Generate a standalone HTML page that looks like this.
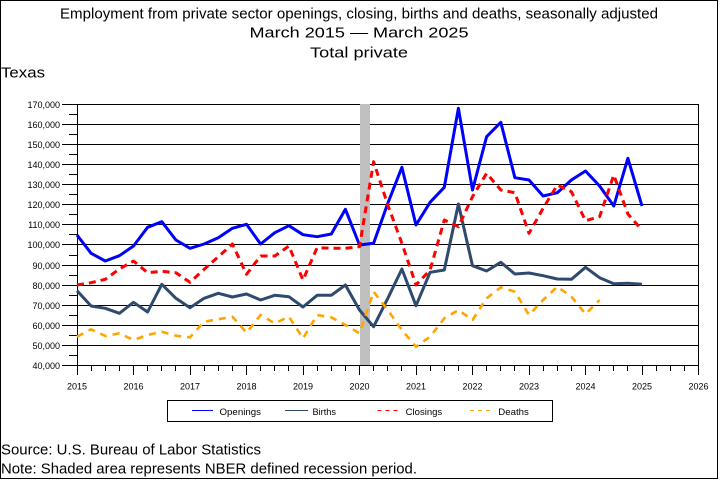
<!DOCTYPE html>
<html><head><meta charset="utf-8"><style>
html,body{margin:0;padding:0;background:#fff;}
svg{display:block;}
text{font-family:"Liberation Sans",sans-serif;fill:#000;}
</style></head><body>
<svg width="720" height="480" viewBox="0 0 720 480" xmlns="http://www.w3.org/2000/svg">
<rect x="0" y="0" width="720" height="480" fill="#fff"/>
<rect x="0.5" y="0.5" width="717" height="478" fill="none" stroke="#000" stroke-width="1"/>

<!-- titles -->
<text x="60" y="18.5" font-size="15" textLength="598" lengthAdjust="spacingAndGlyphs">Employment from private sector openings, closing, births and deaths, seasonally adjusted</text>
<text x="249.5" y="37.7" font-size="15" textLength="219" lengthAdjust="spacingAndGlyphs">March 2015 — March 2025</text>
<text x="310" y="57.3" font-size="15" textLength="98" lengthAdjust="spacingAndGlyphs">Total private</text>
<text x="1" y="77.7" font-size="15" textLength="44" lengthAdjust="spacingAndGlyphs">Texas</text>

<!-- gridlines -->
<g stroke="#000" stroke-width="1">
<line x1="62" y1="104.5" x2="699" y2="104.5"/>
<line x1="62" y1="124.5" x2="699" y2="124.5"/>
<line x1="62" y1="144.5" x2="699" y2="144.5"/>
<line x1="62" y1="164.5" x2="699" y2="164.5"/>
<line x1="62" y1="184.5" x2="699" y2="184.5"/>
<line x1="62" y1="204.5" x2="699" y2="204.5"/>
<line x1="62" y1="224.5" x2="699" y2="224.5"/>
<line x1="62" y1="244.5" x2="699" y2="244.5"/>
<line x1="62" y1="265.5" x2="699" y2="265.5"/>
<line x1="62" y1="285.5" x2="699" y2="285.5"/>
<line x1="62" y1="305.5" x2="699" y2="305.5"/>
<line x1="62" y1="325.5" x2="699" y2="325.5"/>
<line x1="62" y1="345.5" x2="699" y2="345.5"/>
<line x1="62" y1="365.5" x2="699" y2="365.5"/>
<!-- minor y ticks -->
<line x1="69" y1="114.5" x2="77" y2="114.5"/>
<line x1="69" y1="134.5" x2="77" y2="134.5"/>
<line x1="69" y1="154.5" x2="77" y2="154.5"/>
<line x1="69" y1="174.5" x2="77" y2="174.5"/>
<line x1="69" y1="194.5" x2="77" y2="194.5"/>
<line x1="69" y1="214.5" x2="77" y2="214.5"/>
<line x1="69" y1="234.5" x2="77" y2="234.5"/>
<line x1="69" y1="255.5" x2="77" y2="255.5"/>
<line x1="69" y1="275.5" x2="77" y2="275.5"/>
<line x1="69" y1="295.5" x2="77" y2="295.5"/>
<line x1="69" y1="315.5" x2="77" y2="315.5"/>
<line x1="69" y1="335.5" x2="77" y2="335.5"/>
<line x1="69" y1="355.5" x2="77" y2="355.5"/>
<!-- axes frame -->
<line x1="77.5" y1="104" x2="77.5" y2="375"/>
<line x1="698.5" y1="104" x2="698.5" y2="375"/>
</g>

<!-- x ticks -->
<g stroke="#000" stroke-width="1">
<line x1="133.5" y1="365" x2="133.5" y2="375"/><line x1="190.5" y1="365" x2="190.5" y2="375"/>
<line x1="246.5" y1="365" x2="246.5" y2="375"/><line x1="303.5" y1="365" x2="303.5" y2="375"/>
<line x1="359.5" y1="365" x2="359.5" y2="375"/><line x1="416.5" y1="365" x2="416.5" y2="375"/>
<line x1="472.5" y1="365" x2="472.5" y2="375"/><line x1="529.5" y1="365" x2="529.5" y2="375"/>
<line x1="585.5" y1="365" x2="585.5" y2="375"/><line x1="642.5" y1="365" x2="642.5" y2="375"/>
<line x1="91.5" y1="365" x2="91.5" y2="371"/><line x1="105.5" y1="365" x2="105.5" y2="371"/><line x1="119.5" y1="365" x2="119.5" y2="371"/>
<line x1="147.5" y1="365" x2="147.5" y2="371"/><line x1="161.5" y1="365" x2="161.5" y2="371"/><line x1="175.5" y1="365" x2="175.5" y2="371"/>
<line x1="204.5" y1="365" x2="204.5" y2="371"/><line x1="218.5" y1="365" x2="218.5" y2="371"/><line x1="232.5" y1="365" x2="232.5" y2="371"/>
<line x1="260.5" y1="365" x2="260.5" y2="371"/><line x1="274.5" y1="365" x2="274.5" y2="371"/><line x1="288.5" y1="365" x2="288.5" y2="371"/>
<line x1="317.5" y1="365" x2="317.5" y2="371"/><line x1="331.5" y1="365" x2="331.5" y2="371"/><line x1="345.5" y1="365" x2="345.5" y2="371"/>
<line x1="373.5" y1="365" x2="373.5" y2="371"/><line x1="387.5" y1="365" x2="387.5" y2="371"/><line x1="401.5" y1="365" x2="401.5" y2="371"/>
<line x1="430.5" y1="365" x2="430.5" y2="371"/><line x1="444.5" y1="365" x2="444.5" y2="371"/><line x1="458.5" y1="365" x2="458.5" y2="371"/>
<line x1="486.5" y1="365" x2="486.5" y2="371"/><line x1="500.5" y1="365" x2="500.5" y2="371"/><line x1="514.5" y1="365" x2="514.5" y2="371"/>
<line x1="543.5" y1="365" x2="543.5" y2="371"/><line x1="557.5" y1="365" x2="557.5" y2="371"/><line x1="571.5" y1="365" x2="571.5" y2="371"/>
<line x1="599.5" y1="365" x2="599.5" y2="371"/><line x1="613.5" y1="365" x2="613.5" y2="371"/><line x1="627.5" y1="365" x2="627.5" y2="371"/>
<line x1="656.5" y1="365" x2="656.5" y2="371"/><line x1="670.5" y1="365" x2="670.5" y2="371"/><line x1="684.5" y1="365" x2="684.5" y2="371"/>
</g>

<!-- y labels -->
<g font-size="9" text-anchor="end">
<text x="60" y="107.8">170,000</text>
<text x="60" y="127.8">160,000</text>
<text x="60" y="147.8">150,000</text>
<text x="60" y="167.8">140,000</text>
<text x="60" y="187.8">130,000</text>
<text x="60" y="207.8">120,000</text>
<text x="60" y="227.8">110,000</text>
<text x="60" y="247.8">100,000</text>
<text x="60" y="268.8">90,000</text>
<text x="60" y="288.8">80,000</text>
<text x="60" y="308.8">70,000</text>
<text x="60" y="328.8">60,000</text>
<text x="60" y="348.8">50,000</text>
<text x="60" y="368.8">40,000</text>
</g>

<!-- x labels -->
<g font-size="9" text-anchor="middle">
<text x="77" y="389.5">2015</text>
<text x="133.5" y="389.5">2016</text>
<text x="190" y="389.5">2017</text>
<text x="246.5" y="389.5">2018</text>
<text x="303" y="389.5">2019</text>
<text x="359.5" y="389.5">2020</text>
<text x="416" y="389.5">2021</text>
<text x="472.5" y="389.5">2022</text>
<text x="529" y="389.5">2023</text>
<text x="585.5" y="389.5">2024</text>
<text x="642" y="389.5">2025</text>
<text x="698.5" y="389.5">2026</text>
</g>

<!-- recession shade -->
<rect x="360" y="104" width="10" height="261" fill="#C0C0C0"/>

<!-- series -->
<g fill="none" stroke-linejoin="round">
<polyline stroke="#0000FF" stroke-width="3" points="77,235 91.1,253.3 105.3,261 119.4,255.7 133.5,246 147.6,227.3 161.8,221.7 175.9,240 190,248.3 204.1,244 218.3,237.7 232.4,228.3 246.5,224.3 260.6,244 274.8,232.7 288.9,225.7 303,234.7 317.1,236.7 331.3,234 345.4,209.3 359.5,245 373.6,243.3 387.8,203.3 401.9,167.3 416,225 430.1,202.3 444.3,187.3 458.4,108.3 472.5,190 486.6,136.7 500.8,122.3 514.9,177.7 529,180 543.1,196 557.3,192.7 571.4,180 585.5,171 599.6,186 613.8,206 627.9,158.3 642,206"/>
<polyline stroke="#2E4A6E" stroke-width="3" points="77,290.7 91.1,306 105.3,308.3 119.4,313.3 133.5,302.3 147.6,312 161.8,284.3 175.9,298.3 190,307.7 204.1,298.3 218.3,293.3 232.4,297 246.5,294 260.6,300 274.8,295.3 288.9,296.7 303,307 317.1,295.3 331.3,295.3 345.4,285 359.5,310 373.6,326.7 387.8,298.3 401.9,269 416,305.7 430.1,272.3 444.3,270 458.4,204 472.5,265.7 486.6,271 500.8,262.3 514.9,274 529,273 543.1,275.7 557.3,279 571.4,279.3 585.5,267.3 599.6,277.7 613.8,283.7 627.9,283.3 642,284.3"/>
<polyline stroke="#FF0000" stroke-width="3" stroke-dasharray="7 5" points="77,285 91.1,282.7 105.3,279.3 119.4,269 133.5,261 147.6,272.7 161.8,271.3 175.9,272.7 190,282.3 204.1,269.3 218.3,256.7 232.4,244 246.5,274.3 260.6,256 274.8,256 288.9,246 303,280 317.1,247.7 331.3,248.3 345.4,248.3 359.5,246.7 373.6,161.7 387.8,205 401.9,243.3 416,285 430.1,270 444.3,220 458.4,226.7 472.5,196.7 486.6,173.3 500.8,190 514.9,192.7 529,233.3 543.1,208.3 557.3,185 571.4,191.7 585.5,220.7 599.6,216.7 613.8,175 627.9,214 642,230"/>
<polyline stroke="#FFA500" stroke-width="2.6" stroke-dasharray="7 6" points="77,336.7 91.1,329.3 105.3,336 119.4,333.3 133.5,340 147.6,335 161.8,331.7 175.9,335.7 190,337.3 204.1,321.7 218.3,319.3 232.4,316.7 246.5,332.7 260.6,315 274.8,323.3 288.9,316.7 303,338.3 317.1,315 331.3,317.3 345.4,325 359.5,333.3 373.6,291.7 387.8,310 401.9,330 416,346.7 430.1,336.7 444.3,318.3 458.4,310 472.5,320 486.6,298.3 500.8,287.3 514.9,291.7 529,315 543.1,300 557.3,286.7 571.4,296.7 585.5,314 599.6,300"/>
</g>

<!-- legend -->
<rect x="167.5" y="400.5" width="385" height="21" fill="none" stroke="#000" stroke-width="1"/>
<line x1="192" y1="410.5" x2="213" y2="410.5" stroke="#0000FF" stroke-width="1"/>
<text x="219.5" y="415" font-size="9" textLength="41.5" lengthAdjust="spacingAndGlyphs">Openings</text>
<line x1="285" y1="410.5" x2="308" y2="410.5" stroke="#2E4A6E" stroke-width="1"/>
<text x="312.5" y="415" font-size="9" textLength="23.5" lengthAdjust="spacingAndGlyphs">Births</text>
<line x1="377.5" y1="410.5" x2="398.5" y2="410.5" stroke="#FF0000" stroke-width="1" stroke-dasharray="4 4"/>
<text x="405.7" y="415" font-size="9" textLength="36.5" lengthAdjust="spacingAndGlyphs">Closings</text>
<line x1="470" y1="410.5" x2="492" y2="410.5" stroke="#FFA500" stroke-width="1" stroke-dasharray="4 4"/>
<text x="498.3" y="415" font-size="9" textLength="30.5" lengthAdjust="spacingAndGlyphs">Deaths</text>

<!-- footer -->
<text x="1" y="454.3" font-size="15" textLength="260" lengthAdjust="spacingAndGlyphs">Source: U.S. Bureau of Labor Statistics</text>
<text x="1" y="473.3" font-size="15" textLength="416" lengthAdjust="spacingAndGlyphs">Note: Shaded area represents NBER defined recession period.</text>
</svg>
</body></html>
